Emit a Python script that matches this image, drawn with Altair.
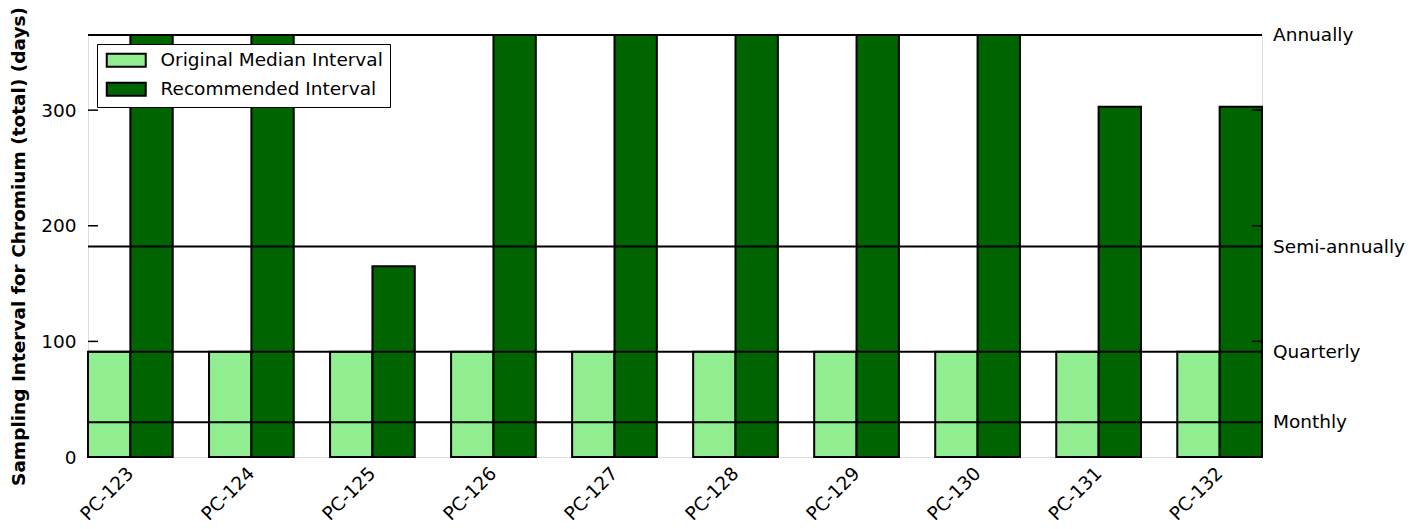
import altair as alt
import pandas as pd

FONT = "DejaVu Sans"
FS = 18.5

sites = ["PC-123", "PC-124", "PC-125", "PC-126", "PC-127",
         "PC-128", "PC-129", "PC-130", "PC-131", "PC-132"]
original = [91, 91, 91, 91, 91, 91, 91, 91, 91, 91]
recommended = [365, 365, 165, 365, 365, 365, 365, 365, 303, 303]
series_names = ["Original Median Interval", "Recommended Interval"]
series_colors = ["#90EE90", "#006400"]

freq_labels = ["Monthly", "Quarterly", "Semi-annually", "Annually"]
freq_days = [30, 91, 182, 365]

y_ticks = [0, 100, 200, 300]
inner_ticks = [100, 200, 300]

W, H = 1174, 422
Y_TITLE = "Sampling Interval for Chromium (total) (days)"

rows = []
for s, o, r in zip(sites, original, recommended):
    rows.append({"site": s, "series": series_names[0], "value": o})
    rows.append({"site": s, "series": series_names[1], "value": r})
df = pd.DataFrame(rows)
freq_df = pd.DataFrame({"label": freq_labels, "days": freq_days})
tick_df = pd.DataFrame({"t": inner_ticks})

yscale = alt.Scale(domain=[0, 365], nice=False, zero=True)

bars = alt.Chart(df).mark_bar(stroke="black", strokeWidth=2).encode(
    x=alt.X("site:N", sort=sites,
            scale=alt.Scale(paddingInner=0.3, paddingOuter=0),
            axis=alt.Axis(title=None, labelAngle=315, labelAlign="right",
                          labelBaseline="middle", labelPadding=13, ticks=False,
                          domain=False, labelFontSize=FS, labelFont=FONT,
                          labelColor="black")),
    xOffset=alt.XOffset("series:N", sort=series_names,
                        scale=alt.Scale(paddingInner=0, paddingOuter=0)),
    y=alt.Y("value:Q", scale=yscale, title=Y_TITLE,
            axis=alt.Axis(title=Y_TITLE, values=y_ticks, ticks=False, domain=False,
                          grid=False, labelPadding=12, labelFontSize=FS,
                          labelFont=FONT, labelColor="black",
                          titleFont=FONT, titleFontSize=FS, titleFontWeight="bold",
                          titleColor="black", titlePadding=12)),
    color=alt.Color("series:N", sort=series_names,
                    scale=alt.Scale(domain=series_names, range=series_colors),
                    legend=alt.Legend(title=None, orient="none", legendX=9, legendY=9,
                                      fillColor="white", strokeColor="black",
                                      padding=7, rowPadding=7,
                                      symbolType="M-1,-1H5V1H-1Z",
                                      symbolSize=169, symbolStrokeWidth=2,
                                      symbolStrokeColor="black", symbolOpacity=1,
                                      labelOffset=38, labelFontSize=FS,
                                      labelFont=FONT, labelColor="black",
                                      labelLimit=400)),
)

rules = alt.Chart(freq_df).mark_rule(color="black", strokeWidth=2).encode(
    y=alt.Y("days:Q", scale=yscale, title=Y_TITLE)
)

labels = alt.Chart(freq_df).mark_text(
    align="left", baseline="middle", fontSize=FS, font=FONT, color="black"
).encode(
    y=alt.Y("days:Q", scale=yscale, title=Y_TITLE),
    x=alt.value(W + 11),
    text="label:N",
)

left_ticks = alt.Chart(tick_df).mark_rule(color="black", strokeWidth=1.5).encode(
    y=alt.Y("t:Q", scale=yscale, title=Y_TITLE),
    x=alt.value(0), x2=alt.value(10),
)
right_ticks = alt.Chart(tick_df).mark_rule(color="black", strokeWidth=1.5).encode(
    y=alt.Y("t:Q", scale=yscale, title=Y_TITLE),
    x=alt.value(W - 10), x2=alt.value(W),
)

chart = alt.layer(bars, rules, left_ticks, right_ticks, labels).properties(
    width=W, height=H,
    autosize=alt.AutoSizeParams(type="none"),
    padding={"left": 80, "top": 27, "right": 150, "bottom": 74},
).configure_view(stroke="black", strokeWidth=2).configure_legend(
    strokeWidth=2
).configure(background="white")

chart.save("out.html", embed_options={"renderer": "svg", "actions": False})
